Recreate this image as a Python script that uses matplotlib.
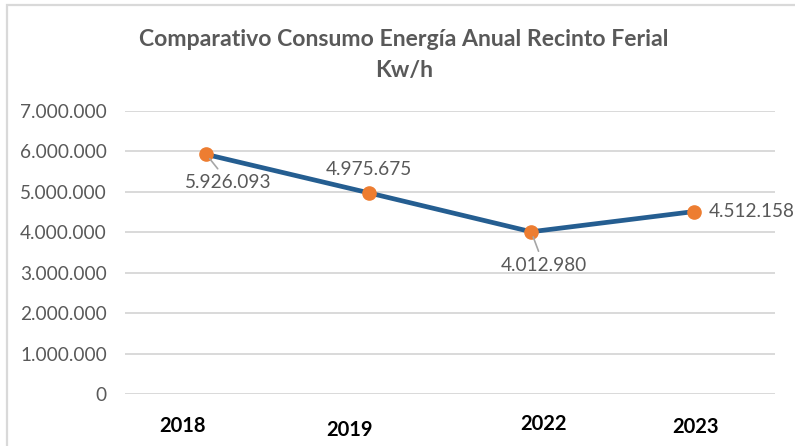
import matplotlib.pyplot as plt
from matplotlib.patches import Rectangle
from matplotlib.transforms import ScaledTranslation

# Datos
anios = ["2018", "2019", "2022", "2023"]
consumo = [5926093, 4975675, 4012980, 4512158]
y_ticks = [0, 1000000, 2000000, 3000000, 4000000, 5000000, 6000000, 7000000]

# desplazamiento de etiquetas (offset points) como en el original
label_offsets = [(16, -20), (0, 17), (9, -24), (11, 0)]
label_ha = ["center", "center", "center", "left"]
label_line = [True, False, True, False]
# desplazamiento de las etiquetas del eje x (px)
xlabel_shift = [(-24, -1), (-19, -5), (12, 1), (2, -2)]


def fmt(v):
    return f"{v:,}".replace(",", ".")


plt.rcParams["font.family"] = ["Lato", "DejaVu Sans"]

fig = plt.figure(figsize=(7.95, 4.46), dpi=100)
fig.patches.append(
    Rectangle((7 / 795, -0.1), 1.2, 1 - 5 / 446 + 0.1, transform=fig.transFigure,
              fill=False, edgecolor="#d9d9d9", linewidth=1.6)
)

ax = fig.add_axes([125 / 795, 1 - 394 / 446, 650 / 795, (394 - 111) / 446])
x = list(range(len(anios)))
ax.plot(x, consumo, color="#255e91", linewidth=3.4, zorder=3,
        marker="o", markersize=9.5, markerfacecolor="#ed7d31",
        markeredgecolor="#ed7d31")

ax.set_xlim(-0.5, len(anios) - 0.5)
ax.set_ylim(0, 7000000)
ax.set_yticks(y_ticks)
ax.set_yticklabels([fmt(t) for t in y_ticks], color="#595959", fontsize=13.7)
ax.set_xticks(x)
ax.set_xticklabels(anios, fontsize=14.5, fontweight="bold", color="black")
ax.tick_params(axis="both", length=0)
ax.tick_params(axis="y", pad=13)
ax.tick_params(axis="x", pad=15)
for lbl, (dx, dy) in zip(ax.get_xticklabels(), xlabel_shift):
    lbl.set_transform(lbl.get_transform() + ScaledTranslation(dx / 100, dy / 100, fig.dpi_scale_trans))

ax.grid(axis="y", color="#d9d9d9", linewidth=1.4)
ax.set_axisbelow(True)
for s in ax.spines.values():
    s.set_visible(False)

for xi, v, off, ha, line in zip(x, consumo, label_offsets, label_ha, label_line):
    arrow = dict(arrowstyle="-", color="#a6a6a6", lw=1.2, shrinkA=2, shrinkB=4) if line else None
    ax.annotate(fmt(v), (xi, v), xytext=off, textcoords="offset points",
                ha=ha, va="center", fontsize=13.7, color="#595959",
                arrowprops=arrow, zorder=4)

fig.text(404 / 795, 1 - 40 / 446, "Comparativo Consumo Energía Anual Recinto Ferial",
         ha="center", va="center", fontsize=16.6, fontweight="bold", color="#595959")
fig.text(404 / 795, 1 - 71 / 446, "Kw/h",
         ha="center", va="center", fontsize=16.6, fontweight="bold", color="#595959")

fig.savefig("out.png", dpi=100)
